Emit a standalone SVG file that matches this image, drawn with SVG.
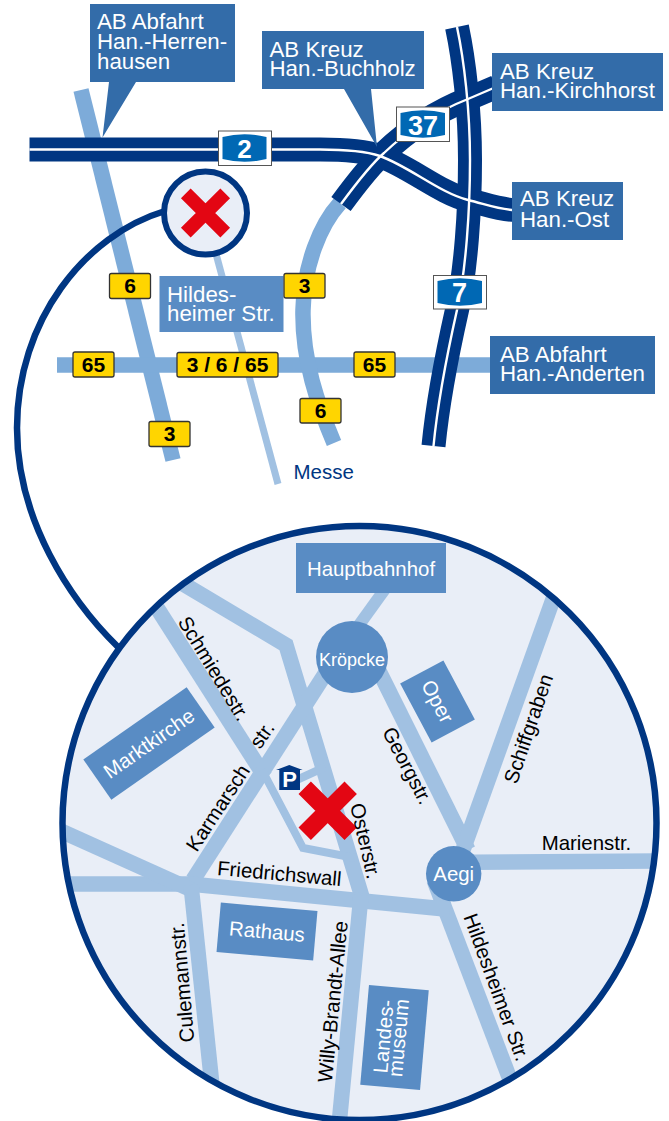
<svg xmlns="http://www.w3.org/2000/svg" width="669" height="1121" viewBox="0 0 669 1121">
<style>
text{font-family:"Liberation Sans",Arial,sans-serif}
.r{fill:none;stroke:#7dabd9;stroke-width:15.5}
.mw{fill:none;stroke:#003682;stroke-width:24}
.mg{fill:none;stroke:#fff;stroke-width:2.4}
.box{fill:#336ca9}
.lb{fill:#598cc4}
.t{fill:#fff;font-size:22.3px}
.tl{fill:#fff;font-size:20.4px;text-anchor:middle}
.y{fill:#ffd500;stroke:#333;stroke-width:1.3}
.yt{fill:#000;font-size:21px;font-weight:bold;text-anchor:middle}
.sb{fill:#fff;stroke:#555;stroke-width:1}
.sp{fill:#0068b4}
.st{fill:#fff;font-weight:bold;text-anchor:middle}
.lr{fill:none;stroke:#a1c1e2;stroke-width:15.5}
.s{fill:#000;font-size:20.4px}
.x{fill:none;stroke:#e30613}
</style>
<defs><clipPath id="bc"><circle cx="359.5" cy="823" r="297"/></clipPath></defs>

<g id="connectors">
<g id="upper-roads">
<path class="r" d="M81,90L173,460"/>
<path class="r" d="M57,365H495"/>
<path class="r" d="M340,203C320,225 304,265 303,310C302,360 318,405 334,443"/>
<path class="r" style="stroke:#a1c1e2;stroke-width:7" d="M205,213L278,484"/>
</g>
<g id="motorways">
<path class="mw" d="M29.500,149.500H320C350,149.500 368,152 380,156C410,167 440,193 468,200C485,204 500,210 515,210"/>
<path class="mw" d="M341,204C355,185 370,165 384,153C405,133 435,112 468,99L496,87"/>
<path class="mw" d="M457,27C464,60 470,110 470,160C470,210 466,270 457,310C448,350 438,400 433.500,446"/>
<path class="mg" d="M29.500,149.500H320C350,149.500 368,152 380,156C410,167 440,193 468,200C485,204 500,210 515,210"/>
<path class="mg" d="M341,204C355,185 370,165 384,153C405,133 435,112 468,99L496,87"/>
<path class="mg" d="M457,27C464,60 470,110 470,160C470,210 466,270 457,310C448,350 438,400 433.500,446"/>
</g>
<path id="zoom-link" fill="none" stroke="#003682" stroke-width="6.500" d="M165,211C85,235 17,320 17,428C17,520 70,600 118,647"/>
</g>

<g id="node-herrenhausen"><path class="box" d="M90,4H235V82H136L102.500,137.500L109,82H90Z"/>
<text class="t" x="97" y="29">AB Abfahrt</text><text class="t" x="97" y="49">Han.-Herren-</text><text class="t" x="97" y="68.500">hausen</text></g>
<g id="node-buchholz"><path class="box" d="M262,31H424V89H371L377,147L344,89H262Z"/>
<text class="t" x="269.500" y="56.700">AB Kreuz</text><text class="t" x="269.500" y="76">Han.-Buchholz</text></g>
<g id="node-kirchhorst"><rect class="box" x="492" y="53" width="171" height="58"/>
<text class="t" x="500" y="78.700">AB Kreuz</text><text class="t" x="500" y="98">Han.-Kirchhorst</text></g>
<g id="node-ost"><rect class="box" x="512" y="182" width="111" height="58"/>
<text class="t" x="520" y="206.300">AB Kreuz</text><text class="t" x="520" y="226.500">Han.-Ost</text></g>
<g id="node-anderten"><rect class="box" x="490" y="336" width="165" height="58"/>
<text class="t" x="500" y="361.700">AB Abfahrt</text><text class="t" x="500" y="381">Han.-Anderten</text></g>
<g id="node-hildesheimer"><rect class="lb" x="159.500" y="276" width="124" height="56"/>
<text class="t" x="167" y="301.700">Hildes-</text><text class="t" x="167" y="321">heimer Str.</text></g>
<g id="node-messe"><text x="293.500" y="478.500" font-size="20.500" fill="#003682">Messe</text></g>

<g id="sign-a2"><rect class="sb" x="218.500" y="131" width="53" height="34.500"/><path class="sp" d="M222.500,137Q244.500,131.500 266.500,137V159Q244.500,164.500 222.500,159Z"/><text class="st" x="244.500" y="158" font-size="26">2</text></g>
<g id="sign-a37"><rect class="sb" x="396.500" y="107" width="53" height="34.500"/><path class="sp" d="M400.500,113Q423,107.500 445,113V135Q423,140.500 400.500,135Z"/><text class="st" x="423" y="134.500" font-size="27">37</text></g>
<g id="sign-a7"><rect class="sb" x="433.500" y="275.500" width="53" height="33.500"/><path class="sp" d="M437.500,281Q460,275.500 482,281V303Q460,308.500 437.500,303Z"/><text class="st" x="459.500" y="302" font-size="27">7</text></g>

<g id="badge-6a"><rect class="y" x="109.500" y="273.500" width="41" height="25" rx="2"/><text class="yt" x="130" y="293">6</text></g>
<g id="badge-3a"><rect class="y" x="284" y="273.500" width="41" height="24.500" rx="2"/><text class="yt" x="304.500" y="293">3</text></g>
<g id="badge-65a"><rect class="y" x="73" y="352" width="41" height="25" rx="2"/><text class="yt" x="93.500" y="371.500">65</text></g>
<g id="badge-365"><rect class="y" x="177" y="352.500" width="101" height="24.500" rx="2"/><text class="yt" x="227.500" y="371.500">3 / 6 / 65</text></g>
<g id="badge-65b"><rect class="y" x="354" y="352" width="41" height="25" rx="2"/><text class="yt" x="374.500" y="371.500">65</text></g>
<g id="badge-6b"><rect class="y" x="300" y="398.500" width="41" height="24.500" rx="2"/><text class="yt" x="320.500" y="418">6</text></g>
<g id="badge-3b"><rect class="y" x="149" y="421.500" width="41" height="25" rx="2"/><text class="yt" x="169.500" y="441">3</text></g>

<g id="node-small-circle"><circle cx="205.500" cy="213" r="41.500" fill="#e9eef7" stroke="#003682" stroke-width="6"/>
<path class="x" stroke-width="13.700" d="M185.800,193.300L225.200,232.700M225.200,193.300L185.800,232.700"/></g>

<g id="node-detail-circle"><circle cx="359.500" cy="823" r="297" fill="#e9eef7"/></g>

<g id="streets" clip-path="url(#bc)">
<path class="lr" d="M152,600L265,777"/>
<path class="lr" d="M175,579L286,645L362,897"/>
<path class="lr" style="stroke-width:12" d="M385,589L336,657"/>
<path class="lr" d="M336,657L193,880"/>
<path class="lr" style="stroke-width:8" d="M262,770L303,848L355,858"/>
<path class="lr" style="stroke-width:8" d="M290,783L325,767"/>
<path class="lr" d="M375,663L468,850"/>
<path class="lr" d="M556,591L463,850"/>
<path class="lr" d="M440,862.500L662,861"/>
<path class="lr" d="M434,880L516,1095"/>
<path class="lr" d="M55,884H190L450,909.500"/>
<path class="lr" d="M50,826L192,890"/>
<path class="lr" d="M191,885L213,1095"/>
<path class="lr" d="M361,895L339,1125"/>
</g>
<circle cx="359.500" cy="823" r="297" fill="none" stroke="#003682" stroke-width="6.500"/>

<g id="node-hauptbahnhof"><rect class="lb" x="296" y="543" width="150" height="50"/><text class="tl" x="371" y="576">Hauptbahnhof</text></g>
<g id="node-kroepcke"><circle class="lb" cx="352" cy="657" r="36"/><text class="tl" style="font-size:18px" x="352" y="665.700">Kröpcke</text></g>
<g id="node-aegi"><circle class="lb" cx="453.700" cy="873.800" r="27.700"/><text class="tl" x="453.700" y="880.700">Aegi</text></g>
<g id="node-oper" transform="translate(437.500,701.500) rotate(62)"><rect class="lb" x="-33.500" y="-24.500" width="67" height="49"/><text class="tl" y="7">Oper</text></g>
<g id="node-marktkirche" transform="translate(149,743.500) rotate(-34.900)"><rect class="lb" x="-63" y="-24.500" width="126" height="49"/><text class="tl" y="7">Marktkirche</text></g>
<g id="node-rathaus" transform="translate(267,931.500) rotate(5)"><rect class="lb" x="-48.500" y="-24.800" width="97" height="49.600"/><text class="tl" y="7">Rathaus</text></g>
<g id="node-landesmuseum" transform="translate(394.500,1037.500) rotate(-85)"><rect class="lb" x="-50" y="-30" width="100" height="60"/><text class="tl" y="-4">Landes-</text><text class="tl" y="11">museum</text></g>

<g id="node-parking"><path fill="#003682" d="M276,770L289.300,765L302.700,770H300V790H279.300V770Z"/><text x="289.500" y="786.700" font-size="22" font-weight="bold" fill="#fff" text-anchor="middle">P</text></g>
<g id="node-destination"><path class="x" stroke-width="17.500" d="M304.700,787.800L350.700,833.800M350.700,787.800L304.700,833.800"/></g>

<g id="street-labels">
<text class="s" transform="translate(177.300,621.700) rotate(58.800)">Schmiedestr.</text>
<text class="s" transform="translate(260,750) rotate(-55)">str.</text>
<text class="s" transform="translate(196.700,853) rotate(-56.800)">Karmarsch</text>
<text class="s" transform="translate(381.700,731.700) rotate(62.400)">Georgstr.</text>
<text class="s" transform="translate(516.700,785) rotate(-71.300)">Schiffgraben</text>
<text class="s" transform="translate(541.700,850)">Marienstr.</text>
<text class="s" transform="translate(216.700,875) rotate(5.100)">Friedrichswall</text>
<text class="s" transform="translate(350,805) rotate(77)">Osterstr.</text>
<text class="s" transform="translate(194.300,1041.700) rotate(-95)">Culemannstr.</text>
<text class="s" transform="translate(331.700,1083) rotate(-84.300)">Willy-Brandt-Allee</text>
<text class="s" transform="translate(463.300,916.700) rotate(69.900)">Hildesheimer Str.</text>
</g>
</svg>
